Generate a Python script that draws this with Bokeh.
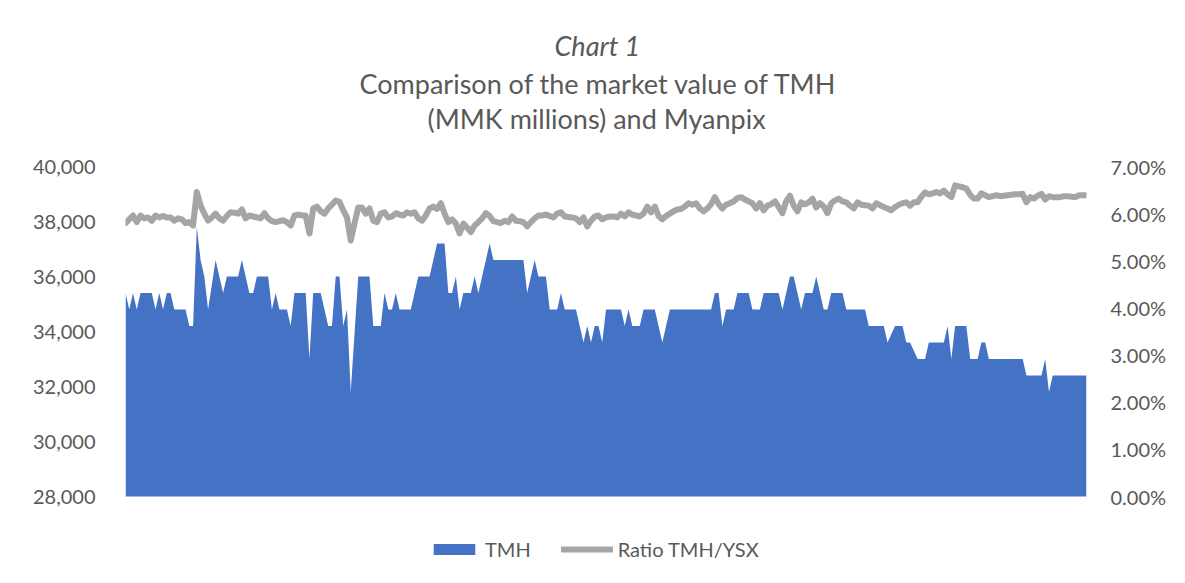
from bokeh.plotting import figure
from bokeh.models import (Range1d, LinearAxis, NumeralTickFormatter, FixedTicker,
                          Legend, LegendItem, Title, ColumnDataSource)
from bokeh.embed import file_html
from bokeh.resources import INLINE

# TMH market value (MMK millions), one value per trading day
tmh = [
    35400, 34800, 35400, 34800, 35400, 35400, 35400, 35400, 34800, 35400,
    34800, 35400, 35400, 34800, 34800, 34800, 34800, 34200, 34200, 37800,
    36600, 36000, 34800, 35700, 36600, 36000, 35400, 36000, 36000, 36000,
    36000, 36600, 36000, 35400, 35400, 36000, 36000, 36000, 36000, 34800,
    35400, 34800, 34800, 34800, 34200, 35400, 35400, 35400, 35400, 33000,
    35400, 35400, 35400, 34800, 34200, 34200, 36000, 36000, 34200, 34800,
    31800, 33900, 36000, 36000, 36000, 36000, 34200, 34200, 34200, 35400,
    34800, 34800, 35400, 34800, 34800, 34800, 34800, 35400, 36000, 36000,
    36000, 36000, 36600, 37200, 37200, 37200, 35400, 35400, 36000, 34800,
    35400, 35400, 35400, 36000, 35400, 36000, 36600, 37200, 36600, 36600,
    36600, 36600, 36600, 36600, 36600, 36600, 36600, 35400, 36000, 36600,
    36000, 36000, 36000, 34800, 34800, 34800, 35400, 34800, 34800, 34800,
    34800, 34200, 33600, 34200, 33600, 34200, 34200, 33600, 34800, 34800,
    34800, 34800, 34800, 34200, 34800, 34200, 34200, 34200, 34800, 34800,
    34800, 34800, 34200, 33600, 34200, 34800, 34800, 34800, 34800, 34800,
    34800, 34800, 34800, 34800, 34800, 34800, 34800, 35400, 35400, 34200,
    34800, 34800, 34800, 35400, 35400, 35400, 35400, 34800, 34800, 34800,
    35400, 35400, 35400, 35400, 35400, 34800, 35400, 36000, 36000, 35400,
    34800, 35400, 35400, 35400, 36000, 35400, 34800, 34800, 35400, 35400,
    35400, 35400, 34800, 34800, 34800, 34800, 34800, 34800, 34200, 34200,
    34200, 34200, 34200, 33600, 33900, 34200, 34200, 34200, 33600, 33600,
    33300, 33000, 33000, 33000, 33600, 33600, 33600, 33600, 33600, 34200,
    33000, 34200, 34200, 34200, 34200, 33000, 33000, 33000, 33600, 33600,
    33000, 33000, 33000, 33000, 33000, 33000, 33000, 33000, 33000, 33000,
    32400, 32400, 32400, 32400, 32400, 33000, 31800, 32400, 32400, 32400,
    32400, 32400, 32400, 32400, 32400, 32400, 32400,
]

# Ratio TMH / YSX, in percent
ratio_pct = [
    5.80, 5.88, 5.96, 5.82, 5.96, 5.90, 5.92, 5.85, 5.96, 5.92,
    5.95, 5.92, 5.92, 5.85, 5.90, 5.88, 5.80, 5.82, 5.75, 6.46,
    6.17, 6.00, 5.85, 5.92, 6.00, 5.90, 5.85, 5.95, 6.03, 6.02,
    6.00, 6.09, 5.90, 5.96, 5.94, 5.92, 5.90, 6.01, 5.90, 5.84,
    5.82, 5.84, 5.86, 5.82, 5.75, 5.96, 5.98, 5.96, 5.96, 5.58,
    6.11, 6.15, 6.05, 6.00, 6.11, 6.19, 6.28, 6.25, 6.07, 5.92,
    5.43, 5.79, 6.13, 6.13, 6.00, 6.11, 5.85, 5.82, 6.00, 6.03,
    5.92, 5.94, 6.01, 5.98, 5.96, 6.03, 6.00, 6.03, 5.90, 5.85,
    5.96, 6.11, 6.15, 6.10, 6.22, 6.00, 5.82, 5.88, 5.79, 5.58,
    5.79, 5.70, 5.61, 5.75, 5.82, 5.90, 6.01, 5.95, 5.84, 5.82,
    5.80, 5.85, 5.82, 5.94, 5.85, 5.84, 5.82, 5.73, 5.82, 5.90,
    5.96, 5.96, 5.98, 5.95, 5.92, 6.00, 6.03, 5.94, 5.93, 5.92,
    5.90, 5.82, 5.92, 5.73, 5.85, 5.94, 5.96, 5.88, 5.92, 5.94,
    5.94, 5.92, 6.00, 5.94, 6.03, 5.98, 5.96, 5.94, 6.00, 6.15,
    6.03, 6.15, 5.95, 5.88, 5.95, 6.00, 6.05, 6.09, 6.10, 6.15,
    6.22, 6.19, 6.22, 6.11, 6.05, 6.11, 6.20, 6.35, 6.20, 6.11,
    6.19, 6.22, 6.26, 6.33, 6.35, 6.30, 6.26, 6.22, 6.11, 6.22,
    6.07, 6.17, 6.20, 6.26, 6.14, 6.01, 6.26, 6.38, 6.17, 6.05,
    6.24, 6.20, 6.24, 6.32, 6.13, 6.22, 6.15, 6.01, 6.22, 6.28,
    6.32, 6.26, 6.24, 6.17, 6.11, 6.24, 6.19, 6.18, 6.17, 6.11,
    6.22, 6.18, 6.14, 6.11, 6.07, 6.14, 6.19, 6.22, 6.24, 6.17,
    6.24, 6.24, 6.36, 6.45, 6.41, 6.43, 6.46, 6.43, 6.49, 6.41,
    6.35, 6.60, 6.58, 6.56, 6.53, 6.40, 6.32, 6.32, 6.43, 6.39,
    6.35, 6.37, 6.39, 6.37, 6.38, 6.39, 6.40, 6.41, 6.41, 6.42,
    6.24, 6.35, 6.32, 6.38, 6.42, 6.30, 6.37, 6.35, 6.35, 6.35,
    6.37, 6.37, 6.36, 6.35, 6.39, 6.39, 6.39,
]

left_ticks = [28000, 30000, 32000, 34000, 36000, 38000, 40000]
right_ticks = [0.0, 0.01, 0.02, 0.03, 0.04, 0.05, 0.06, 0.07]

title_lines = ["Chart 1", "Comparison of the market value of TMH", "(MMK millions) and Myanpix"]
series_names = ["TMH", "Ratio TMH/YSX"]

n = len(tmh)
assert len(ratio_pct) == n, (n, len(ratio_pct))
src = ColumnDataSource(dict(day=list(range(n)), tmh=tmh, ratio=[r / 100.0 for r in ratio_pct]))

FONT = "Lato"
GREY = "#595959"

# layout geometry (pixels): the plotting band spans 330 px for the full tick range;
# the frame is extended below it so that the legend can sit inside the frame.
W, H = 1169, 567
TOP, LEFT, RIGHT = 166, 125, 82
BAND = 330
frame_h = H - TOP
ext = frame_h / BAND  # how many "tick ranges" the whole frame covers

l0, l1 = left_ticks[0], left_ticks[-1]
r0, r1 = right_ticks[0], right_ticks[-1]

p = figure(width=W, height=H, output_backend="svg", toolbar_location=None, title=None,
           x_range=Range1d(0, n - 1),
           y_range=Range1d(l1 - (l1 - l0) * ext, l1),
           x_axis_location=None, y_axis_location="left",
           min_border_left=LEFT, min_border_right=RIGHT, min_border_top=TOP, min_border_bottom=0)
p.extra_y_ranges = {"ratio": Range1d(r1 - (r1 - r0) * ext, r1)}
p.outline_line_color = None
p.background_fill_color = "white"
p.border_fill_color = "white"
p.xgrid.visible = False
p.ygrid.visible = False

yl = p.yaxis[0]
yl.ticker = FixedTicker(ticks=left_ticks)
yl.formatter = NumeralTickFormatter(format="0,0")

yr = LinearAxis(y_range_name="ratio", ticker=FixedTicker(ticks=right_ticks),
                formatter=NumeralTickFormatter(format="0.00%"))
p.add_layout(yr, "right")

for ax, so in ((yl, 30), (yr, 24)):
    ax.axis_line_color = None
    ax.major_tick_line_color = None
    ax.minor_tick_line_color = None
    ax.major_tick_in = 0
    ax.major_tick_out = 0
    ax.major_label_standoff = so
    ax.major_label_text_font = FONT
    ax.major_label_text_font_size = "20px"
    ax.major_label_text_color = GREY

area = p.varea(x="day", y1=l0, y2="tmh", source=src, fill_color="#4472C4")
line = p.line(x="day", y="ratio", source=src, y_range_name="ratio",
              line_color="#A5A5A5", line_width=6, line_join="round", line_cap="round")

legend = Legend(items=[LegendItem(label=series_names[0], renderers=[area]),
                       LegendItem(label=series_names[1], renderers=[line])],
                orientation="horizontal", location=(303, 6),
                glyph_width=52, glyph_height=14, label_standoff=5, spacing=30,
                padding=0, margin=0, border_line_color=None, background_fill_alpha=0,
                label_text_font=FONT, label_text_font_size="20px", label_text_color=GREY)
p.add_layout(legend)

# titles: added from the frame outward (first one is an empty spacer);
# left-aligned with an offset so that the text is centred on the whole chart
def add_title(text, standoff, offset, style="normal", size="27px"):
    p.add_layout(Title(text=text, align="left", offset=offset, standoff=standoff,
                       text_font=FONT, text_font_size=size, text_font_style=style,
                       text_color=GREY), "above")

add_title(" ", 0, 0, size="25px")
add_title(title_lines[2], 0, 302)
add_title(title_lines[1], 0, 234)
add_title(title_lines[0], 6, 429, "italic")

open("out.html", "w").write(file_html(p, INLINE))
